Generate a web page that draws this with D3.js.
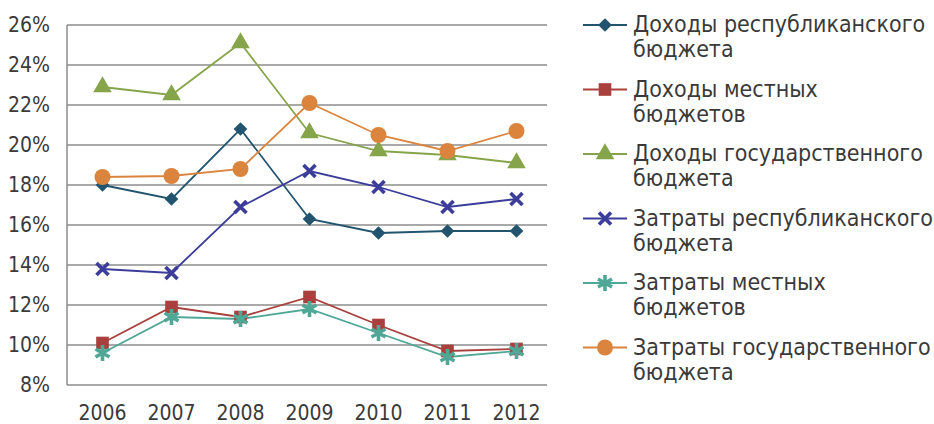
<!DOCTYPE html>
<html>
<head>
<meta charset="utf-8">
<script src="https://cdn.jsdelivr.net/npm/d3@7"></script>
<style>
  body { margin: 0; background: #fff; }
  svg text { font-family: "DejaVu Sans Condensed", "DejaVu Sans", sans-serif; font-stretch: condensed; fill: #3a3a3a; }
</style>
</head>
<body>
<div id="chart"></div>
<script>
// chart data
let years = ["2006", "2007", "2008", "2009", "2010", "2011", "2012"];
let incomeRepublic = [18.0, 17.3, 20.8, 16.3, 15.6, 15.7, 15.7];
let incomeLocal = [10.1, 11.9, 11.4, 12.4, 11.0, 9.7, 9.8];
let incomeState = [22.9, 22.5, 25.1, 20.6, 19.7, 19.5, 19.1];
let costRepublic = [13.8, 13.6, 16.9, 18.7, 17.9, 16.9, 17.3];
let costLocal = [9.6, 11.4, 11.3, 11.8, 10.6, 9.4, 9.7];
let costState = [18.4, 18.45, 18.8, 22.1, 20.5, 19.7, 20.7];
let yTicks = [8, 10, 12, 14, 16, 18, 20, 22, 24, 26];

let seriesNames = [
    ["Доходы республиканского", "бюджета"],
    ["Доходы местных", "бюджетов"],
    ["Доходы государственного", "бюджета"],
    ["Затраты республиканского", "бюджета"],
    ["Затраты местных", "бюджетов"],
    ["Затраты государственного", "бюджета"]
];
let seriesValues = [incomeRepublic, incomeLocal, incomeState, costRepublic, costLocal, costState];
let colors = ["#22546f", "#a9403d", "#86a44a", "#3c3c9a", "#4fa796", "#db843d"];
let shapes = ["diamond", "square", "triangle", "cross", "star", "circle"];

let width = 934, height = 424;
let plot = { left: 67, right: 547, top: 25, bottom: 385 };

let svg = d3.select("#chart").append("svg")
    .attr("width", width)
    .attr("height", height);

let x = d3.scaleBand().domain(years).range([68, 551]);
let y = d3.scaleLinear().domain([8, 26]).range([plot.bottom, plot.top]);

// gridlines
svg.append("g")
    .selectAll("line")
    .data(yTicks)
    .enter().append("line")
    .attr("x1", plot.left)
    .attr("x2", plot.right)
    .attr("y1", d => y(d))
    .attr("y2", d => y(d))
    .style("stroke", "#8c8c8c")
    .style("stroke-width", 1.5);

// left axis line
svg.append("line")
    .attr("x1", plot.left).attr("x2", plot.left)
    .attr("y1", plot.top).attr("y2", plot.bottom)
    .style("stroke", "#8c8c8c")
    .style("stroke-width", 1.5);

// y axis labels
let yAxis = svg.append("g")
    .attr("transform", "translate(" + plot.left + ",0)")
    .call(d3.axisLeft(y).tickValues(yTicks).tickSize(0).tickPadding(17).tickFormat(d => d + "%"));
yAxis.select(".domain").remove();
yAxis.selectAll("text").style("font-size", "21px").style("fill", "#3a3a3a");

// x axis labels
let xAxis = svg.append("g")
    .attr("transform", "translate(0," + plot.bottom + ")")
    .call(d3.axisBottom(x).tickSize(0).tickPadding(20));
xAxis.select(".domain").remove();
xAxis.selectAll("text").style("font-size", "21px").style("fill", "#3a3a3a");

// marker symbol for each shape
function markerPath(shape) {
    if (shape == "diamond") return d3.symbol().type(d3.symbolDiamond2).size(120)();
    if (shape == "square") return d3.symbol().type(d3.symbolSquare).size(160)();
    if (shape == "triangle") return d3.symbol().type(d3.symbolTriangle).size(150)();
    if (shape == "circle") return d3.symbol().type(d3.symbolCircle).size(200)();
    if (shape == "cross") return "M-6,-6L6,6M-6,6L6,-6";
    return "M0,-8L0,8M-7,-4L7,4M-7,4L7,-4";
}

function drawMarker(g, shape, color) {
    let p = g.append("path").attr("d", markerPath(shape));
    if (shape == "cross" || shape == "star") {
        p.style("fill", "none").style("stroke", color).style("stroke-width", 3.6);
    } else {
        p.style("fill", color);
    }
}

let line = d3.line()
    .x((d, i) => x(years[i]) + x.bandwidth() / 2)
    .y(d => y(d));

// draw series lines and markers
seriesValues.forEach(function(vals, s) {
    svg.append("path")
        .datum(vals)
        .attr("d", line)
        .style("fill", "none")
        .style("stroke", colors[s])
        .style("stroke-width", 1.8);
});
seriesValues.forEach(function(vals, s) {
    vals.forEach(function(v, i) {
        let g = svg.append("g")
            .attr("transform", "translate(" + (x(years[i]) + x.bandwidth() / 2) + "," + y(v) + ")");
        drawMarker(g, shapes[s], colors[s]);
    });
});

// legend
let legend = svg.selectAll(".legend")
    .data(seriesNames)
    .enter().append("g")
    .attr("class", "legend")
    .attr("transform", (d, i) => "translate(0," + (25 + i * 64.5) + ")");

legend.append("line")
    .attr("x1", 583).attr("x2", 627)
    .attr("y1", 0).attr("y2", 0)
    .style("stroke", (d, i) => colors[i])
    .style("stroke-width", 1.8);

legend.each(function(d, i) {
    let g = d3.select(this).append("g").attr("transform", "translate(605,0)");
    drawMarker(g, shapes[i], colors[i]);
});

legend.append("text")
    .attr("x", 633)
    .attr("y", 7)
    .style("font-size", "23px")
    .text(d => d[0]);
legend.append("text")
    .attr("x", 633)
    .attr("y", 32)
    .style("font-size", "23px")
    .text(d => d[1]);
</script>
</body>
</html>
